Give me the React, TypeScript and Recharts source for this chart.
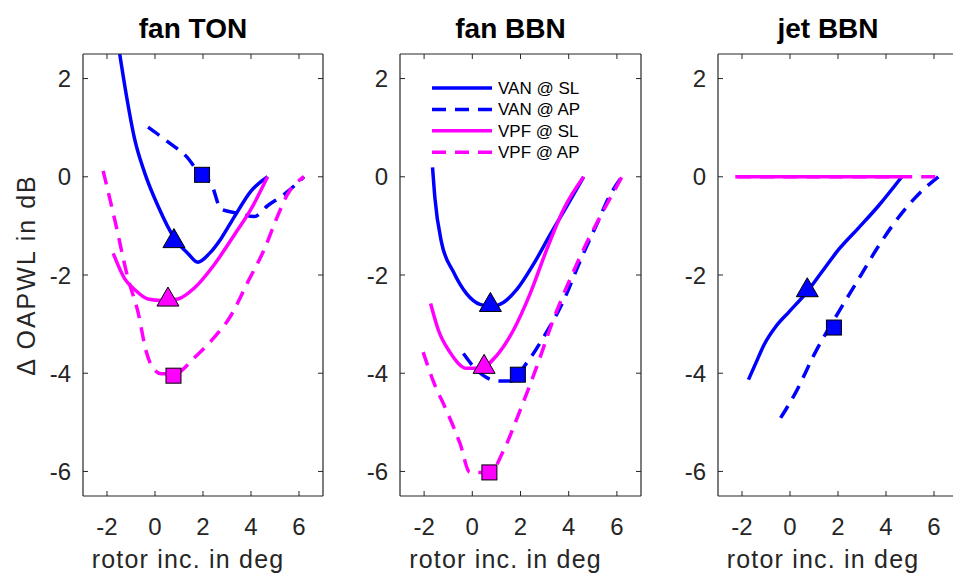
import { ComposedChart, Line, Scatter, XAxis, YAxis, Legend } from "recharts";

type Pt = [number, number];

const X_TICKS = [-2, 0, 2, 4, 6];
const Y_TICKS = [-6, -4, -2, 0, 2];
const X_DOMAIN = [-3, 7];
const Y_DOMAIN = [-6.5, 2.5];

const SERIES_NAMES = ["VAN @ SL", "VAN @ AP", "VPF @ SL", "VPF @ AP"];
const PANEL_TITLES = ["fan TON", "fan BBN", "jet BBN"];
const X_LABEL = "rotor inc. in deg";
const Y_LABEL = "\u0394 OAPWL in dB";

// fan TON
const TON_VAN_SL: Pt[] = [[-1.47, 2.5], [-1.19, 1.65], [-0.84, 0.75], [-0.43, 0.08], [0.12, -0.59], [0.82, -1.26], [1.37, -1.56], [1.78, -1.74], [2.27, -1.56], [2.75, -1.26], [3.31, -0.81], [4.0, -0.29], [4.69, 0]];
const TON_VAN_AP: Pt[] = [[-0.29, 1.01], [0.54, 0.71], [1.37, 0.38], [1.92, 0.02], [2.34, -0.14], [2.75, -0.66], [3.44, -0.74], [4.14, -0.81], [4.69, -0.59], [5.38, -0.36], [6.21, 0]];
const TON_VPF_SL: Pt[] = [[-1.74, -1.56], [-1.26, -2.08], [-0.84, -2.3], [-0.29, -2.49], [0.26, -2.52], [0.95, -2.49], [1.65, -2.26], [2.48, -1.78], [3.31, -1.18], [4.0, -0.66], [4.69, 0]];
const TON_VPF_AP: Pt[] = [[-2.16, 0.12], [-1.67, -0.89], [-1.12, -2.08], [-0.71, -2.75], [-0.36, -3.57], [-0.08, -3.9], [0.26, -4.01], [0.82, -4.01], [1.65, -3.68], [2.34, -3.34], [3.17, -2.82], [3.86, -2.15], [4.55, -1.48], [5.1, -0.81], [5.52, -0.36], [6.21, 0]];
const TON_MARKS: Pt[] = [[0.79, -1.3], [1.96, 0.04], [0.54, -2.49], [0.77, -4.05]];

// fan BBN
const BBN_VAN_SL: Pt[] = [[-1.65, 0.19], [-1.55, -0.44], [-1.28, -1.33], [-0.79, -1.93], [-0.24, -2.38], [0.32, -2.6], [0.8, -2.64], [1.29, -2.56], [1.84, -2.3], [2.54, -1.78], [3.23, -1.18], [3.93, -0.59], [4.62, 0]];
const BBN_VAN_AP: Pt[] = [[-0.37, -3.6], [0.04, -3.86], [0.6, -4.09], [1.15, -4.16], [1.57, -4.16], [2.26, -3.79], [2.95, -3.27], [3.79, -2.52], [4.48, -1.71], [5.17, -0.96], [5.73, -0.36], [6.21, 0]];
const BBN_VPF_SL: Pt[] = [[-1.73, -2.58], [-1.41, -3.12], [-0.93, -3.57], [-0.24, -3.9], [0.32, -3.9], [1.01, -3.64], [1.71, -3.12], [2.4, -2.38], [3.09, -1.48], [3.79, -0.66], [4.62, 0]];
const BBN_VPF_AP: Pt[] = [[-2.04, -3.57], [-1.62, -4.16], [-1.07, -4.76], [-0.51, -5.43], [-0.1, -6.02], [0.74, -6.02], [1.29, -5.58], [1.98, -4.76], [2.68, -3.86], [3.37, -2.9], [4.06, -2.08], [4.76, -1.33], [5.31, -0.81], [6.21, 0]];
const BBN_MARKS: Pt[] = [[0.75, -2.6], [1.89, -4.03], [0.49, -3.86], [0.71, -6.02]];

// jet BBN
const JET_VAN_SL: Pt[] = [[-1.73, -4.13], [-1.42, -3.79], [-1.08, -3.42], [-0.59, -3.05], [-0.04, -2.75], [0.65, -2.38], [1.34, -1.93], [2.03, -1.48], [2.86, -1.04], [3.69, -0.59], [4.66, 0]];
const JET_VAN_AP: Pt[] = [[-0.39, -4.91], [0.24, -4.39], [1.06, -3.57], [2.03, -2.75], [2.86, -2.08], [3.69, -1.41], [4.66, -0.74], [5.49, -0.29], [6.18, 0]];
const JET_VPF_SL: Pt[] = [[-2.28, 0], [4.66, 0]];
const JET_VPF_AP: Pt[] = [[-2.2, 0], [6.18, 0]];
const JET_MARKS: Pt[] = [[0.72, -2.3], [1.83, -3.07]];

const BLUE = "#0000ff";
const MAGENTA = "#ff00ff";
const AXIS = "#262626";
const FONT = "'Liberation Sans', Arial, sans-serif";
const DASH = "14 9";

const LINE_STYLE = [
  { color: BLUE, dash: undefined },
  { color: BLUE, dash: DASH },
  { color: MAGENTA, dash: undefined },
  { color: MAGENTA, dash: DASH },
];
const MARK_SHAPE = ["triangle", "square", "triangle", "square"];

const toXY = (pts: Pt[]) => pts.map(([x, y]) => ({ x, y }));

const BottomTick = (p: any) => (
  <g>
    <line x1={p.x} x2={p.x} y1={p.y} y2={p.y - 5} stroke={AXIS} />
    <text x={p.x} y={p.y + 39} textAnchor="middle" fontSize={24} fill={AXIS} fontFamily={FONT}>
      {p.payload.value}
    </text>
  </g>
);
const LeftTick = (p: any) => (
  <g>
    <line x1={p.x} x2={p.x + 5} y1={p.y} y2={p.y} stroke={AXIS} />
    <text x={p.x - 12} y={p.y + 8.5} textAnchor="end" fontSize={24} fill={AXIS} fontFamily={FONT}>
      {p.payload.value}
    </text>
  </g>
);
const TopTick = (p: any) => <line x1={p.x} x2={p.x} y1={p.y} y2={p.y + 5} stroke={AXIS} />;
const RightTick = (p: any) => <line x1={p.x} x2={p.x - 5} y1={p.y} y2={p.y} stroke={AXIS} />;

const Marker = ({ cx, cy, kind, color }: any) =>
  kind === "triangle" ? (
    <polygon points={`${cx},${cy - 12} ${cx - 11},${cy + 7} ${cx + 11},${cy + 7}`} fill={color} stroke="#000" strokeWidth={1} />
  ) : (
    <rect x={cx - 7.5} y={cy - 7.5} width={15} height={15} fill={color} stroke="#000" strokeWidth={1} />
  );

const LegendBox = () => (
  <svg width={170} height={88} style={{ display: "block" }}>
    {SERIES_NAMES.map((name, i) => {
      const y = 10 + i * 21.4;
      return (
        <g key={name}>
          <line x1={2} x2={62} y1={y} y2={y} stroke={LINE_STYLE[i].color} strokeWidth={3.5} strokeDasharray={LINE_STYLE[i].dash ? "14 9" : undefined} />
          <text x={68} y={y + 6} fontSize={17} fill="#000" fontFamily={FONT}>
            {name}
          </text>
        </g>
      );
    })}
  </svg>
);

interface PanelProps {
  title: string;
  lines: Pt[][];
  marks: Pt[];
  left: number;
  width: number;
  yAxisWidth: number;
  showYLabel?: boolean;
  showLegend?: boolean;
  rightCut?: boolean;
}

const Panel = ({ title, lines, marks, left, width, yAxisWidth, showYLabel, showLegend, rightCut }: PanelProps) => {
  return (
    <div style={{ position: "absolute", left, top: 0 }}>
      <ComposedChart width={width} height={575} margin={{ top: 53, right: rightCut ? 3 : 2, bottom: 0, left: 0 }}>
        <XAxis
          type="number"
          dataKey="x"
          domain={X_DOMAIN}
          ticks={X_TICKS}
          interval={0}
          allowDataOverflow
          height={79}
          tickSize={0}
          tickMargin={0}
          tickLine={false}
          tick={BottomTick}
          axisLine={{ stroke: AXIS, strokeWidth: 1.2 }}
          label={(p: any) => (
            <text x={p.viewBox.x + p.viewBox.width / 2 - 15} y={p.viewBox.y + 72} textAnchor="middle" fontSize={25} letterSpacing={1.2} fill={AXIS} fontFamily={FONT}>
              {X_LABEL}
            </text>
          )}
        />
        <XAxis
          xAxisId="t"
          orientation="top"
          type="number"
          dataKey="x"
          domain={X_DOMAIN}
          ticks={X_TICKS}
          interval={0}
          allowDataOverflow
          height={1}
          tickSize={0}
          tickMargin={0}
          tickLine={false}
          tick={TopTick}
          axisLine={{ stroke: AXIS, strokeWidth: 1.2 }}
          label={(p: any) => (
            <text x={p.viewBox.x + p.viewBox.width / 2 - 10} y={p.viewBox.y - 15} textAnchor="middle" fontSize={28} fontWeight="bold" fill="#000" fontFamily={FONT}>
              {title}
            </text>
          )}
        />
        <YAxis
          type="number"
          dataKey="y"
          domain={Y_DOMAIN}
          ticks={Y_TICKS}
          interval={0}
          allowDataOverflow
          width={yAxisWidth}
          tickSize={0}
          tickMargin={0}
          tickLine={false}
          tick={LeftTick}
          axisLine={{ stroke: AXIS, strokeWidth: 1.2 }}
          label={
            showYLabel
              ? (p: any) => {
                  const cx = p.viewBox.x + 26;
                  const cy = p.viewBox.y + p.viewBox.height / 2;
                  return (
                    <text x={cx} y={cy} transform={`rotate(-90, ${cx}, ${cy})`} textAnchor="middle" dominantBaseline="central" fontSize={25} letterSpacing={2} fill={AXIS} fontFamily={FONT}>
                      {Y_LABEL}
                    </text>
                  );
                }
              : undefined
          }
        />
        <YAxis
          yAxisId="r"
          orientation="right"
          type="number"
          dataKey="y"
          domain={Y_DOMAIN}
          ticks={Y_TICKS}
          interval={0}
          allowDataOverflow
          hide={rightCut}
          width={1}
          tickSize={0}
          tickMargin={0}
          tickLine={false}
          tick={RightTick}
          axisLine={{ stroke: AXIS, strokeWidth: 1.2 }}
        />
        <Line xAxisId="t" yAxisId="r" data={toXY(lines[0])} dataKey="y" stroke="none" dot={false} legendType="none" isAnimationActive={false} />
        {lines.map((pts, i) => (
          <Line
            key={SERIES_NAMES[i]}
            name={SERIES_NAMES[i]}
            data={toXY(pts)}
            dataKey="y"
            type="monotone"
            stroke={LINE_STYLE[i].color}
            strokeWidth={3.5}
            strokeDasharray={LINE_STYLE[i].dash}
            dot={false}
            isAnimationActive={false}
          />
        ))}
        {marks.map((m, i) => (
          <Scatter
            key={`m${i}`}
            data={toXY([m])}
            dataKey="y"
            isAnimationActive={false}
            shape={(p: any) => <Marker cx={p.cx} cy={p.cy} kind={MARK_SHAPE[i]} color={LINE_STYLE[i].color} />}
          />
        ))}
        {showLegend && (
          <Legend
            layout="horizontal"
            verticalAlign="middle"
            align="center"
            content={LegendBox}
            wrapperStyle={{ left: 100, top: 78, width: 170, height: 88 }}
          />
        )}
      </ComposedChart>
    </div>
  );
};

export default function App() {
  return (
    <div style={{ position: "absolute", left: 0, top: 0, width: 953, height: 575, overflow: "hidden", background: "#fff", fontFamily: FONT }}>
      <Panel title={PANEL_TITLES[0]} lines={[TON_VAN_SL, TON_VAN_AP, TON_VPF_SL, TON_VPF_AP]} marks={TON_MARKS} left={0} width={326} yAxisWidth={83} showYLabel />
      <Panel title={PANEL_TITLES[1]} lines={[BBN_VAN_SL, BBN_VAN_AP, BBN_VPF_SL, BBN_VPF_AP]} marks={BBN_MARKS} left={330} width={314} yAxisWidth={70} showLegend />
      <Panel title={PANEL_TITLES[2]} lines={[JET_VAN_SL, JET_VAN_AP, JET_VPF_SL, JET_VPF_AP]} marks={JET_MARKS} left={648} width={313} yAxisWidth={70} rightCut />
    </div>
  );
}
